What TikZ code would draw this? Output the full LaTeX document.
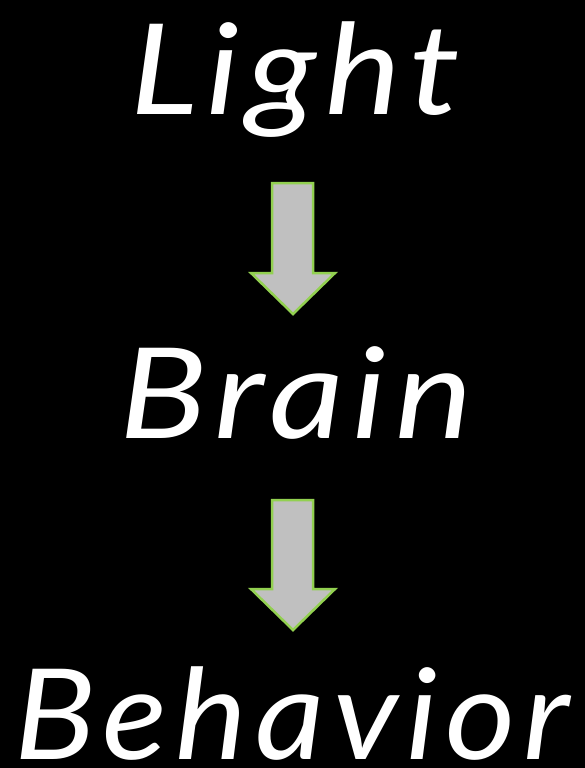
\documentclass[tikz,border=0pt]{standalone}
\usepackage{fontspec}
\usepackage{graphicx}
\setmainfont{Lato}[LetterSpace=6]
\definecolor{arrowgreen}{HTML}{92D050}
\definecolor{arrowfill}{HTML}{C0C0C0}
\begin{document}
\begin{tikzpicture}[x=1pt,y=-1pt,
  word/.style={text=white, font=\fontsize{126}{126}\itshape, anchor=base west, inner sep=0pt},
  blockarrow/.style={draw=arrowgreen, fill=arrowfill, line width=2.5pt, line join=miter}]
\fill[black] (0,0) rectangle (585,768);
\useasboundingbox (0,0) rectangle (585,768);
\node[word] (light) at (130,114) {\scalebox{1.135}[1]{Light}};
\node[word] (brain) at (119,438) {\scalebox{1.16}[1]{Brain}};
\node[word] (behavior) at (14,759) {\scalebox{1.075}[1]{Behavior}};
\draw[blockarrow] (272,183) -- (313,183) -- (313,273) -- (335,273) -- (293,314) -- (251,273) -- (272,273) -- cycle;
\draw[blockarrow] (272,500) -- (313,500) -- (313,589) -- (335,589) -- (293,630) -- (251,589) -- (272,589) -- cycle;
\end{tikzpicture}
\end{document}
